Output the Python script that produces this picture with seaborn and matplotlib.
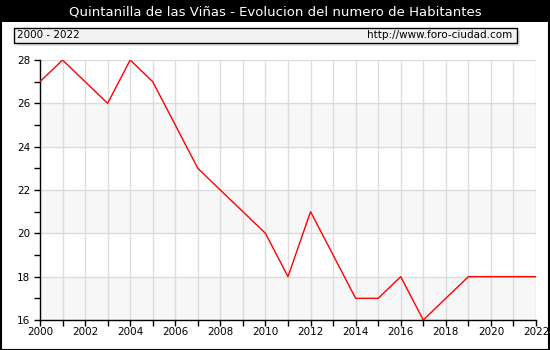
import matplotlib
matplotlib.use("Agg")
import matplotlib.pyplot as plt
from matplotlib.patches import Rectangle
import pandas as pd
import seaborn as sns

years = list(range(2000, 2023))
habitantes = [27, 28, 27, 26, 28, 27, 25, 23, 22, 21, 20, 18, 21, 19, 17, 17, 18, 16, 17, 18, 18, 18, 18]
title = "Quintanilla de las Viñas - Evolucion del numero de Habitantes"
period = "2000 - 2022"
source = "http://www.foro-ciudad.com"

df = pd.DataFrame({"Año": years, "Habitantes": habitantes})

sns.set_theme(style="white")
plt.rcParams["font.family"] = ["DejaVu Sans"]
plt.rcParams["text.color"] = "black"
plt.rcParams["xtick.color"] = "black"
plt.rcParams["ytick.color"] = "black"
plt.rcParams["xtick.labelcolor"] = "black"
plt.rcParams["ytick.labelcolor"] = "black"

W, H = 550, 350
fig = plt.figure(figsize=(W / 100, H / 100), dpi=100)
fig.patch.set_facecolor("white")


def px(x0, y0, x1, y1):
    """Figure-fraction rectangle from pixel coordinates (top-left origin)."""
    return (x0 / W, 1 - y1 / H, (x1 - x0) / W, (y1 - y0) / H)


# title bar
tx, ty, tw, th = px(0, 0, 550, 22)
fig.patches.append(Rectangle((tx, ty), tw, th, transform=fig.transFigure,
                             facecolor="black", edgecolor="none", zorder=0))
fig.text(275 / W, 1 - 12 / H, title, color="white", ha="center", va="center", fontsize=9.5)

# outer frame
fig.patches.append(Rectangle((0.5 / W, 0.5 / H), (W - 2) / W, (H - 2) / H,
                             transform=fig.transFigure, facecolor="none",
                             edgecolor="black", linewidth=1.5, zorder=0))

# info box with shadow
sx, sy, sw, sh = px(17, 31, 520, 46)
fig.patches.append(Rectangle((sx, sy), sw, sh, transform=fig.transFigure,
                             facecolor="#e4e4e4", edgecolor="none", zorder=1))
bx, by, bw, bh = px(14, 28, 517, 43)
fig.patches.append(Rectangle((bx, by), bw, bh, transform=fig.transFigure,
                             facecolor="#f2f2f2", edgecolor="black", linewidth=1, zorder=2))
fig.text(17 / W, 1 - 35.5 / H, period, ha="left", va="center", fontsize=7.5, zorder=3)
fig.text(512 / W, 1 - 35.5 / H, source, ha="right", va="center", fontsize=7.5, zorder=3)

# plot area
ax = fig.add_axes(px(40, 60, 536, 320))
ax.set_facecolor("white")
for lo in (16, 20, 24):
    ax.axhspan(lo, lo + 2, color="#f7f7f7", zorder=0, linewidth=0)

sns.lineplot(data=df, x="Año", y="Habitantes", color="red", linewidth=1, ax=ax, zorder=3)

ax.set_xlim(2000, 2022)
ax.set_ylim(16, 28)
ax.set_xticks(years, minor=False)
ax.set_xticklabels([str(y) if y % 2 == 0 else "" for y in years])
ax.set_yticks(range(16, 29, 2))
ax.set_yticks(range(17, 28, 2), minor=True)
ax.grid(True, which="major", color="#dcdcdc", linewidth=1, zorder=1)
ax.set_axisbelow(True)
ax.set_xlabel("")
ax.set_ylabel("")
for side in ("top", "right"):
    ax.spines[side].set_visible(False)
for side in ("left", "bottom"):
    ax.spines[side].set_color("black")
    ax.spines[side].set_linewidth(1)
ax.tick_params(axis="both", which="both", direction="out", color="black",
               labelcolor="black", labelsize=7.5, left=True, bottom=True)
ax.tick_params(axis="both", which="major", length=4, width=1, pad=1)
ax.tick_params(axis="y", which="major", pad=3)
ax.tick_params(axis="y", which="minor", length=4, width=1)

fig.savefig("out.png", dpi=100)
